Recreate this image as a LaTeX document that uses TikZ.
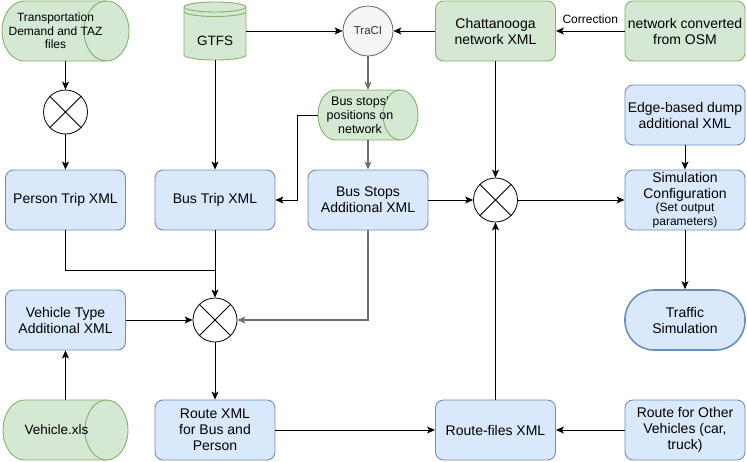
\documentclass[tikz,border=0pt]{standalone}
\usepackage{fontspec}
\setmainfont{Liberation Sans}
\usetikzlibrary{arrows.meta,shapes.geometric}
\definecolor{gfill}{HTML}{D5E8D4}
\definecolor{gdraw}{HTML}{82B366}
\definecolor{bfill}{HTML}{DAE8FC}
\definecolor{bdraw}{HTML}{6C8EBF}
\definecolor{tfill}{HTML}{F5F5F5}
\definecolor{tdraw}{HTML}{666666}
\definecolor{gline}{HTML}{6E6E6E}
\begin{document}
\begin{tikzpicture}[x=1pt,y=-1pt,
  bbox/.style={rectangle, rounded corners=8pt, draw=bdraw, fill=bfill, line width=0.9pt,
    minimum width=120pt, minimum height=60pt, align=center,
    font=\fontsize{14}{16}\selectfont, inner sep=2pt},
  gbox/.style={bbox, draw=gdraw, fill=gfill},
  ghost/.style={rectangle, draw=none, inner sep=0pt},
  lbl/.style={align=center, font=\fontsize{12.5}{14}\selectfont},
  mix/.style={circle, draw=black, fill=white, minimum size=44pt, inner sep=0pt, line width=0.8pt},
  conn/.style={draw=black, line width=0.8pt, -{Stealth[length=8pt,width=7pt,inset=2pt]}},
  plain/.style={draw=black, line width=0.8pt},
  gconn/.style={conn, draw=gline, line width=1.1pt},
  cyl/.style={draw=gdraw, fill=gfill, line width=0.9pt}
]
\useasboundingbox (0,0) rectangle (747,461);

% ---------- cylinder shapes (horizontal) ----------
% Transportation demand: x 2..129, y 1..61, rx 22.5
\path[cyl] (106.5,1) arc[start angle=-90,end angle=90,x radius=22.5,y radius=30]
  -- (24.5,61) arc[start angle=90,end angle=270,x radius=22.5,y radius=30] -- cycle;
\draw[cyl,fill=none] (106.5,1) arc[start angle=-90,end angle=-270,x radius=22.5,y radius=30];
% Bus stops positions: x 318..418, y 90..140, rx 17.5
\path[cyl] (400.5,90) arc[start angle=-90,end angle=90,x radius=17.5,y radius=25]
  -- (335.5,140) arc[start angle=90,end angle=270,x radius=17.5,y radius=25] -- cycle;
\draw[cyl,fill=none] (400.5,90) arc[start angle=-90,end angle=-270,x radius=17.5,y radius=25];
% Vehicle.xls: x 3..128, y 400..460, rx 21.5
\path[cyl] (106.5,400) arc[start angle=-90,end angle=90,x radius=21.5,y radius=30]
  -- (24.5,460) arc[start angle=90,end angle=270,x radius=21.5,y radius=30] -- cycle;
\draw[cyl,fill=none] (106.5,400) arc[start angle=-90,end angle=-270,x radius=21.5,y radius=30];
% GTFS datastore: x 184..246, y 2..60
\path[cyl] (184,7) -- (184,55) arc[start angle=180,end angle=0,x radius=31,y radius=5]
  -- (246,7) arc[start angle=0,end angle=-180,x radius=31,y radius=5] -- cycle;
\draw[cyl,fill=none] (184,7) arc[start angle=180,end angle=0,x radius=31,y radius=5];
\draw[cyl,fill=none] (184,11.5) arc[start angle=180,end angle=0,x radius=31,y radius=5];

% ---------- nodes ----------
\node[ghost, minimum width=127pt, minimum height=60pt,
  label={[lbl, font=\fontsize{12}{13.5}\selectfont, xshift=-10pt]center:Transportation\\Demand and TAZ\\files}] (tdem) at (65.5,31) {};
\node[ghost, minimum width=62pt, minimum height=58pt,
  label={[lbl, font=\fontsize{13.5}{15}\selectfont, yshift=-10pt]center:GTFS}] (gtfs) at (215,31) {};
\node[circle, draw=tdraw, fill=tfill, minimum size=50pt, inner sep=0pt, line width=0.8pt,
  text=black!80, font=\fontsize{11.5}{13}\selectfont] (traci) at (368,31) {TraCI};
\node[gbox] (chatt) at (495.5,31) {Chattanooga\\network XML};
\node[gbox] (osm) at (685,31) {network converted\\from OSM};

\node[mix] (m1) at (65.5,112) {};
\node[ghost, minimum width=100pt, minimum height=50pt,
  label={[lbl, xshift=-8pt]center:Bus stops'\\positions on\\network}] (bcyl) at (368,115) {};
\node[bbox] (edge) at (685,115) {Edge-based dump\\additional XML};

\node[bbox] (person) at (65.5,200) {Person Trip XML};
\node[bbox] (bustrip) at (215,200) {Bus Trip XML};
\node[bbox] (busadd) at (368,200) {Bus Stops\\Additional XML};
\node[mix] (m2) at (495.5,200) {};
\node[bbox] (simconf) at (685,200) {Simulation\\Configuration\\[-3pt]{\fontsize{12}{14}\selectfont (Set output}\\[-2pt]{\fontsize{12}{14}\selectfont parameters)}};

\node[bbox] (vtype) at (65.5,320) {Vehicle Type\\Additional XML};
\node[mix] (m3) at (215,320) {};
\node[bbox, rounded corners=29pt, line width=1.6pt] (traffic) at (685,320) {Traffic\\Simulation};

\node[ghost, minimum width=125pt, minimum height=60pt,
  label={[lbl, font=\fontsize{13.5}{15}\selectfont, xshift=-9pt]center:Vehicle.xls}] (vxls) at (65.5,430) {};
\node[bbox] (routexml) at (215,430) {Route XML\\for Bus and\\Person};
\node[bbox] (routefiles) at (495.5,430) {Route-files XML};
\node[bbox] (routeother) at (685,430) {Route for Other\\Vehicles (car,\\truck)};

% crosses in the mixers
\foreach \m in {m1,m2,m3}{
  \draw[line width=0.8pt] (\m.north west) -- (\m.south east) (\m.north east) -- (\m.south west);
}

\coordinate (j1) at (215,270);
\coordinate (b1) at (297,115);

% ---------- connectors ----------
\draw[conn] (tdem.south) -- (m1.north);
\draw[conn] (m1.south) -- (person.north);
\draw[conn] (gtfs.south) -- (bustrip.north);
\draw[conn] (gtfs.east) -- (traci.west);
\draw[conn] (chatt.west) -- (traci.east);
\draw[conn] (osm.west) -- node[above=4pt, font=\fontsize{12}{14}\selectfont] {Correction} (chatt.east);
\draw[gconn] (traci.south) -- (bcyl.north);
\draw[conn] (bcyl.west) -- (b1) |- (bustrip.east);
\draw[gconn] (bcyl.south) -- (busadd.north);
\draw[conn] (busadd.east) -- (m2.west);
\draw[conn] (chatt.south) -- (m2.north);
\draw[conn] (m2.east) -- (simconf.west);
\draw[conn] (edge.south) -- (simconf.north);
\draw[conn] (simconf.south) -- (traffic.north);
\draw[plain] (person.south) |- (j1);
\draw[conn] (bustrip.south) -- (m3.north);
\draw[gconn] (busadd.south) |- (m3.east);
\draw[conn] (vtype.east) -- (m3.west);
\draw[conn] (vxls.north) -- (vtype.south);
\draw[conn] (m3.south) -- (routexml.north);
\draw[conn] (routexml.east) -- (routefiles.west);
\draw[conn] (routeother.west) -- (routefiles.east);
\draw[conn] (routefiles.north) -- (m2.south);
\end{tikzpicture}
\end{document}
